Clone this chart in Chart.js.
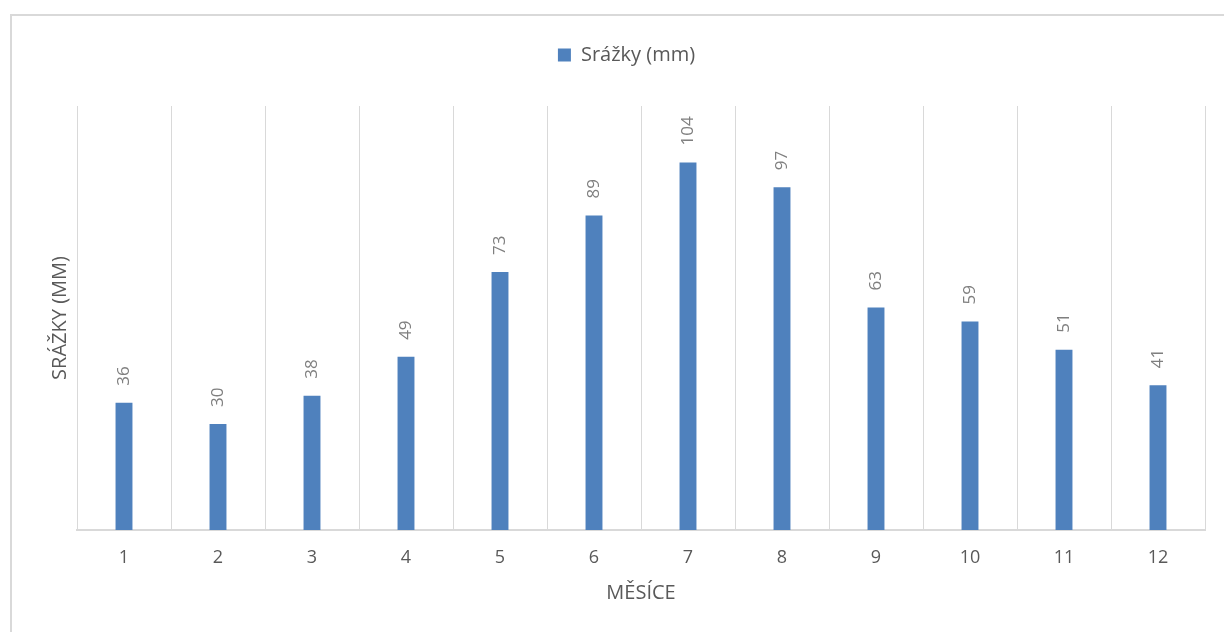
<!DOCTYPE html>
<html lang="cs">
<head>
<meta charset="utf-8">
<title>Srážky (mm)</title>
<script src="https://cdn.jsdelivr.net/npm/chart.js@4.4.1/dist/chart.umd.min.js"></script>
<style>
  html, body { margin: 0; padding: 0; background: #ffffff; overflow: hidden; }
  #wrap { position: relative; width: 1224px; height: 632px; }
  #frame {
    position: absolute; left: 10px; top: 14px; width: 1300px; height: 700px;
    border: 2px solid #d9d9d9; box-sizing: border-box; pointer-events: none;
  }
  canvas { position: absolute; left: 0; top: 0; }
</style>
</head>
<body>
<div id="wrap">
  <canvas id="chart" width="1224" height="632"></canvas>
  <div id="frame"></div>
</div>
<script>
// Monthly precipitation
const months = ['1', '2', '3', '4', '5', '6', '7', '8', '9', '10', '11', '12'];
const precipitation = [36, 30, 38, 49, 73, 89, 104, 97, 63, 59, 51, 41];
const seriesName = 'Srážky (mm)';
const xTitle = 'MĚSÍCE';
const yTitle = 'SRÁŽKY (MM)';
const yMin = 0;
const yMax = 120;

const FONT = "'Open Sans', 'Liberation Sans', sans-serif";
const BAR_BLUE = '#4F81BD';
const TEXT_GREY = '#595959';
const LABEL_GREY = '#7f7f7f';
const GRID_GREY = '#d9d9d9';

// Rotated value labels above every bar
const valueLabels = {
  id: 'valueLabels',
  afterDatasetsDraw(chart) {
    const ctx = chart.ctx;
    const meta = chart.getDatasetMeta(0);
    const values = chart.data.datasets[0].data;
    ctx.save();
    ctx.font = '17px ' + FONT;
    ctx.fillStyle = LABEL_GREY;
    ctx.textAlign = 'left';
    ctx.textBaseline = 'middle';
    meta.data.forEach((bar, i) => {
      ctx.save();
      ctx.translate(bar.x, bar.y - 17);
      ctx.rotate(-Math.PI / 2);
      ctx.fillText(String(values[i]), 0, 0);
      ctx.restore();
    });
    ctx.restore();
  }
};

new Chart(document.getElementById('chart'), {
  type: 'bar',
  data: {
    labels: months,
    datasets: [{
      label: seriesName,
      data: precipitation,
      backgroundColor: BAR_BLUE,
      borderWidth: 0,
      barPercentage: 0.18,
      categoryPercentage: 1.0
    }]
  },
  options: {
    responsive: false,
    devicePixelRatio: 1,
    animation: false,
    layout: { padding: { left: 48, right: 19, top: 3, bottom: 2 } },
    plugins: {
      legend: {
        display: true,
        position: 'top',
        labels: {
          boxWidth: 13,
          boxHeight: 13,
          padding: 42,
          color: TEXT_GREY,
          font: { family: FONT, size: 20 }
        }
      },
      // empty block that keeps a gap between the legend and the plot
      subtitle: {
        display: true,
        text: '',
        weight: 500,
        font: { size: 10 },
        padding: { top: 0, bottom: 19 }
      },
      tooltip: { enabled: false }
    },
    scales: {
      x: {
        grid: {
          display: true,
          color: GRID_GREY,
          lineWidth: 1,
          drawTicks: false,
          offset: true
        },
        border: { display: true, color: GRID_GREY, width: 2 },
        ticks: {
          color: TEXT_GREY,
          font: { family: FONT, size: 18 },
          padding: 17,
          maxRotation: 0
        },
        title: {
          display: true,
          text: xTitle,
          color: TEXT_GREY,
          font: { family: FONT, size: 20 },
          padding: { top: 0, bottom: 25 }
        },
        afterFit(scale) {
          scale.height = 100;
          scale.paddingLeft = 0;
          scale.paddingRight = 0;
        }
      },
      y: {
        min: yMin,
        max: yMax,
        grid: { display: false },
        border: { display: false },
        ticks: { display: false },
        title: {
          display: true,
          text: yTitle,
          color: TEXT_GREY,
          font: { family: FONT, size: 20 },
          padding: { top: 0, bottom: 0 }
        },
        afterFit(scale) {
          scale.width = 29;
          scale.paddingTop = 0;
          scale.paddingBottom = 0;
        }
      }
    }
  },
  plugins: [valueLabels]
});
</script>
</body>
</html>
